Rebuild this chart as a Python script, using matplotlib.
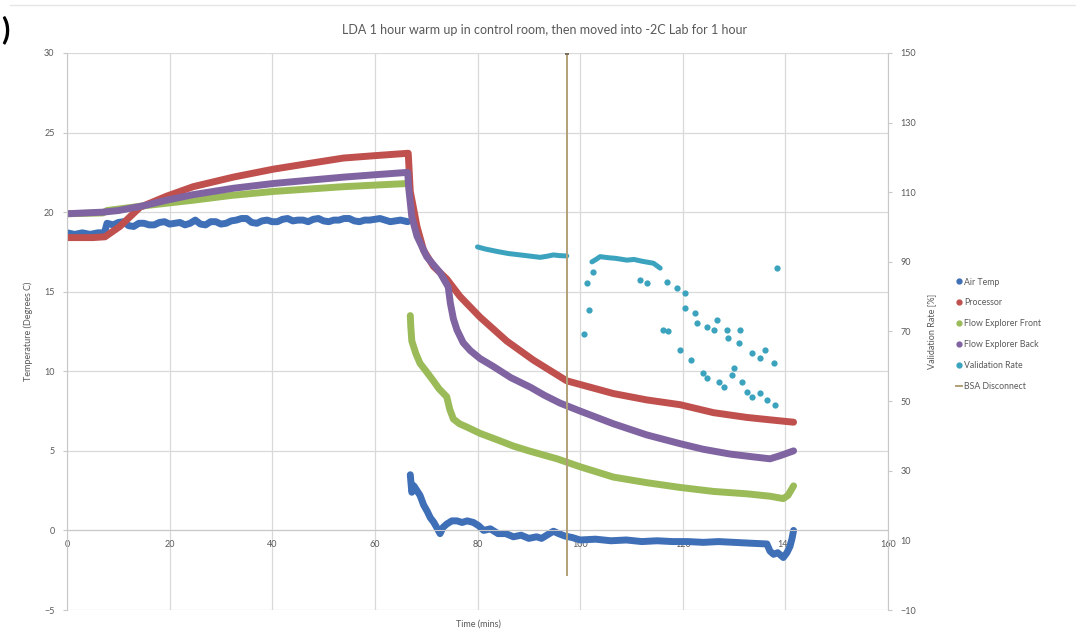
import numpy as np
import matplotlib
matplotlib.use("Agg")
import matplotlib.pyplot as plt
from matplotlib.lines import Line2D

plt.rcParams["font.family"] = ["Lato", "DejaVu Sans"]

# ---- data (time in minutes, temperatures in degrees C, validation in %) ----
air_warm_t = [0, 1.5, 3, 4.5, 6, 7.3, 7.8, 9, 10, 11, 12, 13, 14, 15, 16, 17, 18, 19, 20,
              21, 22, 23, 24, 25, 26, 27, 28, 29, 30, 31, 32, 33, 34, 35, 36, 37, 38, 39,
              40, 41, 42, 43, 44, 45, 46, 47, 48, 49, 50, 51, 52, 53, 54, 55, 56, 57, 58,
              59, 60, 61, 62, 63, 64, 65, 66.4]
air_warm_v = [18.7, 18.6, 18.7, 18.6, 18.7, 18.7, 19.3, 19.2, 19.35, 19.4, 19.15, 19.1,
              19.3, 19.3, 19.2, 19.2, 19.35, 19.4, 19.25, 19.3, 19.35, 19.2, 19.3, 19.5,
              19.25, 19.2, 19.4, 19.4, 19.25, 19.3, 19.45, 19.5, 19.6, 19.6, 19.35, 19.3,
              19.45, 19.5, 19.4, 19.4, 19.55, 19.6, 19.45, 19.5, 19.5, 19.4, 19.55, 19.6,
              19.45, 19.4, 19.5, 19.5, 19.6, 19.6, 19.45, 19.4, 19.5, 19.5, 19.55, 19.6,
              19.5, 19.4, 19.45, 19.5, 19.4]
air_cold_t = [66.9, 67.2, 67.6, 68.2, 68.8, 69.5, 70.2, 70.8, 71.5, 72.2, 72.7, 73.3, 74,
              75, 76, 77, 78, 79.2, 80.2, 81.2, 82.5, 84, 85.5, 87, 88.5, 90, 91.5, 92.5,
              93.5, 94.8, 95.8, 97, 98.5, 100, 103, 106, 109, 112, 115, 118, 121, 124,
              127, 130, 133, 136.4, 137, 137.7, 138.5, 139.6, 140.3, 140.9, 141.3, 141.6]
air_cold_v = [3.5, 2.4, 2.8, 2.5, 2.2, 1.6, 1.2, 0.8, 0.5, 0.1, -0.2, 0.2, 0.4, 0.6, 0.6,
              0.5, 0.6, 0.5, 0.3, 0.0, 0.1, -0.2, -0.2, -0.4, -0.3, -0.5, -0.4, -0.5, -0.3,
              -0.05, -0.2, -0.35, -0.45, -0.6, -0.55, -0.65, -0.6, -0.7, -0.65, -0.7, -0.7,
              -0.75, -0.7, -0.75, -0.8, -0.85, -1.3, -1.5, -1.4, -1.7, -1.4, -1.0, -0.5, 0.0]

proc_t = [0, 3, 5, 7.4, 10.3, 14.2, 19.4, 24.6, 32.4, 40.2, 47, 53.9, 60, 66.5, 66.7,
          66.9, 67.5, 68.2, 69.5, 71.4, 74, 76.6, 80.5, 85.7, 90.9, 97.4, 106.5, 113,
          119.5, 126, 132.5, 137, 141.6]
proc_v = [18.4, 18.4, 18.4, 18.45, 19.1, 20.3, 21.0, 21.6, 22.2, 22.7, 23.05, 23.4, 23.55,
          23.7, 22.5, 21.3, 20.3, 19.1, 17.6, 16.6, 15.8, 14.7, 13.4, 11.9, 10.7, 9.4, 8.6,
          8.2, 7.9, 7.4, 7.1, 6.95, 6.8]

front_warm_t = [0, 7, 7.8, 15, 24.6, 32, 40.2, 47, 53.9, 60, 66.4]
front_warm_v = [19.9, 19.95, 20.1, 20.4, 20.75, 21.05, 21.3, 21.45, 21.6, 21.7, 21.8]
front_cold_t = [66.9, 67.0, 67.2, 68, 68.8, 70, 71.4, 72.5, 74, 74.6, 75.3, 76.5, 77.9,
                80.5, 83.8, 87, 90, 95.5, 100, 106.5, 113, 119.5, 126, 132.5, 137, 139.6,
                140.5, 141.6]
front_cold_v = [13.5, 12.8, 11.9, 11.1, 10.5, 10.0, 9.4, 8.9, 8.4, 7.6, 7.0, 6.7, 6.5, 6.1,
                5.7, 5.3, 5.0, 4.5, 4.0, 3.35, 3.0, 2.7, 2.45, 2.3, 2.15, 2.0, 2.2, 2.8]

back_t = [0, 3.5, 7, 10, 14.9, 19.4, 24.6, 32.4, 40.2, 47, 53.9, 60, 66.4, 66.6, 67.2,
          68.2, 70.1, 72.7, 74.3, 74.7, 75.3, 76, 77.2, 78.6, 80.5, 83.1, 86.5, 90.3, 93,
          96.1, 100, 106.5, 113, 119.5, 124, 129.2, 133, 137, 139, 141.6]
back_v = [19.9, 19.95, 20.0, 20.1, 20.4, 20.75, 21.1, 21.5, 21.8, 22.0, 22.2, 22.35, 22.5,
          21.5, 19.7, 18.5, 17.2, 16.2, 15.3, 14.3, 13.3, 12.6, 11.8, 11.3, 10.8, 10.3,
          9.6, 9.0, 8.5, 8.0, 7.5, 6.7, 6.0, 5.45, 5.1, 4.8, 4.65, 4.5, 4.7, 5.0]

val_run1_t = [80, 81.5, 83.8, 86, 88.3, 90, 92.2, 93.5, 94.8, 96, 97.4]
val_run1_v = [94.3, 93.7, 93.0, 92.4, 92.0, 91.7, 91.3, 91.6, 92.0, 91.8, 91.7]
val_run2_t = [102.3, 103.2, 103.9, 105.5, 107, 109.1, 110.5, 112, 114.3, 115.6]
val_run2_v = [90.0, 90.8, 91.5, 91.2, 91.0, 90.5, 90.7, 90.2, 89.6, 88.2]
val_pts_t = [100.7, 101.3, 101.8, 102.6, 111.7, 113.0, 116.2, 116.9, 117.2, 118.8, 119.5,
             120.5, 120.5, 121.6, 122.4, 122.7, 124.0, 124.7, 124.7, 126.0, 126.6, 127.0,
             128.0, 128.6, 128.9, 129.6, 129.9, 130.9, 131.2, 131.5, 132.5, 133.5, 133.5,
             135.1, 135.1, 136.1, 136.4, 137.7, 138.0, 138.3]
val_pts_v = [69.3, 83.9, 76.2, 87.2, 84.8, 83.9, 70.4, 84.3, 70.0, 82.4, 64.7, 81.0, 76.7,
             61.8, 75.2, 72.4, 58.0, 71.4, 56.6, 70.4, 73.3, 55.6, 54.1, 70.4, 68.0, 57.5,
             59.4, 66.6, 70.4, 55.6, 52.7, 63.7, 51.3, 62.3, 52.3, 64.7, 50.3, 60.9, 48.9,
             88.2]

bsa_t = [97.5, 97.5]
bsa_v = [0, 150]

series_names = ["Air Temp", "Processor", "Flow Explorer Front", "Flow Explorer Back",
                "Validation Rate", "BSA Disconnect"]
x_ticks = [0, 20, 40, 60, 80, 100, 120, 140, 160]
temp_ticks = [-5, 0, 5, 10, 15, 20, 25, 30]
rate_ticks = [-10, 10, 30, 50, 70, 90, 110, 130, 150]

# ---- styling ----
C_AIR = "#3f6fb6"
C_PROC = "#c0504d"
C_FRONT = "#9bbb59"
C_BACK = "#8064a2"
C_VAL = "#3ba3be"
C_BSA = "#b2a078"
TXT = "#595959"
GRID = "#d9d9d9"
LW = 5.0

W, H = 1076, 644
fig = plt.figure(figsize=(W / 100, H / 100), dpi=100)
ax = fig.add_axes([67 / W, 1 - 610 / H, (888 - 67) / W, (610 - 53) / H])

ax.set_xlim(0, 160)
ax.set_ylim(-5, 30)
ax.set_xticks(x_ticks)
ax.set_yticks(temp_ticks)
ax.grid(True, color=GRID, lw=0.9)
ax.set_axisbelow(True)
for s in ("top", "right"):
    ax.spines[s].set_visible(False)
ax.spines["left"].set_color("#c8c8c8")
ax.spines["bottom"].set_position(("data", 0))
ax.spines["bottom"].set_color("#c8c8c8")
ax.tick_params(axis="x", length=0, pad=7, labelsize=6.5, labelcolor=TXT)
ax.tick_params(axis="y", length=3, color="#c8c8c8", pad=6, labelsize=6.5, labelcolor=TXT)

kw = dict(lw=LW, solid_capstyle="round", solid_joinstyle="round")
ax.plot(air_warm_t, air_warm_v, color=C_AIR, **kw)
ax.plot(air_cold_t, air_cold_v, color=C_AIR, **kw)
ax.plot(proc_t, proc_v, color=C_PROC, **kw)
ax.plot(front_warm_t, front_warm_v, color=C_FRONT, **kw)
ax.plot(front_cold_t, front_cold_v, color=C_FRONT, **kw)
ax.plot(back_t, back_v, color=C_BACK, **kw)

ax.set_ylabel("Temperature (Degrees C)", fontsize=6.5, color=TXT, labelpad=8)
ax.set_xlabel("Time (mins)", fontsize=6.5, color=TXT)
ax.xaxis.set_label_coords((478 - 67) / (888 - 67), -0.018)

ax2 = ax.twinx()
ax2.set_ylim(-10, 150)
ax2.set_yticks(rate_ticks)
for s in ("top", "left", "bottom"):
    ax2.spines[s].set_visible(False)
ax2.spines["right"].set_color("#c8c8c8")
ax2.tick_params(axis="y", length=3, color="#c8c8c8", pad=6, labelsize=6.5, labelcolor=TXT)
ax2.set_ylabel("Validation Rate [%]", fontsize=6.5, color=TXT, labelpad=8)

ax2.plot(val_run1_t, val_run1_v, color=C_VAL, lw=3.6, solid_capstyle="round")
ax2.plot(val_run2_t, val_run2_v, color=C_VAL, lw=3.6, solid_capstyle="round")
ax2.plot(val_pts_t, val_pts_v, "o", color=C_VAL, ms=4.5, mew=0)
ax2.plot(bsa_t, bsa_v, color=C_BSA, lw=1.4)
ax2.plot(bsa_t[1:], bsa_v[1:], "s", color="#7d7060", ms=2.5, mew=0)

fig.text(545 / W, 1 - 30 / H,
         "LDA 1 hour warm up in control room, then moved into -2C Lab for 1 hour",
         ha="center", va="center", fontsize=9, color=TXT)

colors = [C_AIR, C_PROC, C_FRONT, C_BACK, C_VAL]
handles = [Line2D([], [], ls="none", marker="o", ms=3.5, color=c) for c in colors]
handles.append(Line2D([], [], ls="-", lw=1.4, color=C_BSA))
fig.legend(handles, series_names, loc="upper left",
           bbox_to_anchor=(952 / W, 1 - 274 / H), frameon=False, fontsize=6.3,
           labelcolor=TXT, handlelength=0.7, handletextpad=0.3, labelspacing=1.35,
           borderaxespad=0)

# panel letter fragment and top rule
fig.text(0.001, 1 - 30 / H, ")", fontsize=22, fontweight="bold", color="black",
         ha="left", va="center")
fig.add_artist(Line2D([10 / W, 1], [1 - 5 / H, 1 - 5 / H], color="#e6e6e6", lw=1))

fig.savefig("out.png", dpi=100)
